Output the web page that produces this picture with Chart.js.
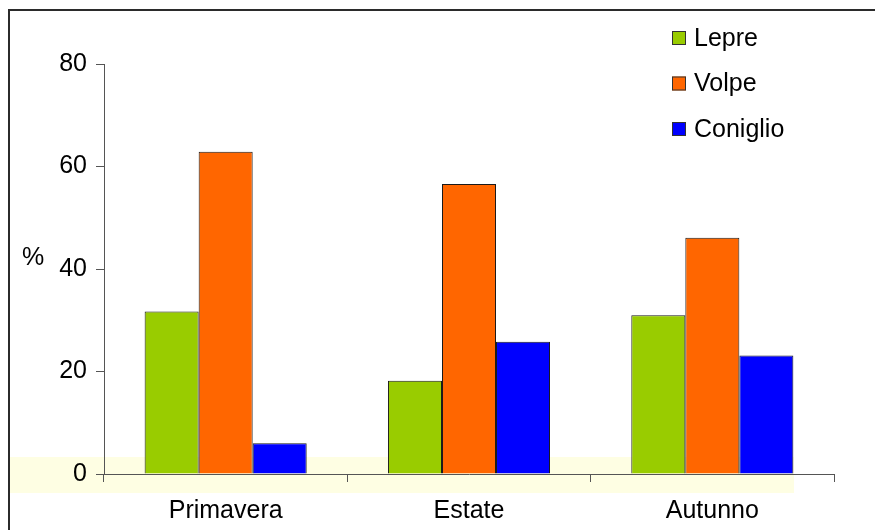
<!DOCTYPE html>
<html>
<head>
<meta charset="utf-8">
<script src="https://cdn.jsdelivr.net/npm/chart.js@4.4.1/dist/chart.umd.min.js"></script>
<style>
  body { margin: 0; background: #fff; }
  #wrap { width: 875px; height: 530px; }
</style>
</head>
<body>
<div id="wrap"><canvas id="myChart" width="875" height="530"></canvas></div>
<script>
// dati
const categories = ['Primavera', 'Estate', 'Autunno'];
const lepre = [31.7, 18.2, 31.0];
const volpe = [62.9, 56.6, 46.1];
const coniglio = [6.0, 25.8, 23.1];
const yTicks = [0, 20, 40, 60, 80];
const seriesNames = ['Lepre', 'Volpe', 'Coniglio'];
const seriesColors = ['#99CC00', '#FF6600', '#0000FF'];

const FONT = 'Liberation Sans, Arial, sans-serif';

// sfondo, banda gialla, cornice
const backPlugin = {
    id: 'back',
    beforeDraw(chart) {
        const c = chart.ctx;
        c.save();
        c.fillStyle = '#fff';
        c.fillRect(0, 0, chart.width, chart.height);
        c.fillStyle = '#FEFEE3';
        c.fillRect(10, 457, 784, 36);
        c.strokeStyle = '#2b2b2b';
        c.lineWidth = 2;
        c.strokeRect(9, 10, 900, 600);
        c.restore();
    }
};

// legenda e simbolo %
const legendPlugin = {
    id: 'myLegend',
    afterDraw(chart) {
        const c = chart.ctx;
        c.save();
        c.font = '25px ' + FONT;
        c.textBaseline = 'middle';
        chart.data.datasets.forEach(function (ds, i) {
            const y = 38 + i * 45.5;
            c.fillStyle = ds.backgroundColor;
            c.fillRect(672, y - 7, 14, 14);
            c.strokeStyle = '#333';
            c.lineWidth = 1;
            c.strokeRect(672.5, y - 6.5, 13, 13);
            c.fillStyle = '#000';
            c.textAlign = 'left';
            c.fillText(ds.label, 694, y + 1);
        });
        c.textAlign = 'center';
        c.fillText('%', 33, 258);
        c.restore();
    }
};

const datasets = [lepre, volpe, coniglio].map(function (vals, i) {
    return {
        label: seriesNames[i],
        data: vals,
        backgroundColor: seriesColors[i],
        borderColor: '#1a1a1a',
        borderWidth: 1,
        categoryPercentage: 0.666,
        barPercentage: 1.0
    };
});

new Chart(document.getElementById('myChart'), {
    type: 'bar',
    data: { labels: categories, datasets: datasets },
    plugins: [backPlugin, legendPlugin],
    options: {
        responsive: false,
        animation: false,
        layout: { padding: { left: 0, right: 41, top: 64, bottom: 0 } },
        plugins: { legend: { display: false }, tooltip: { enabled: false } },
        scales: {
            x: {
                offset: true,
                grid: { offset: true, drawOnChartArea: false, tickLength: 8, color: '#555' },
                border: { color: '#555', width: 1 },
                ticks: { color: '#000', font: { family: FONT, size: 25 }, padding: 14, maxRotation: 0 },
                afterFit: function (s) { s.height = 56; }
            },
            y: {
                min: 0,
                max: 80,
                afterBuildTicks: function (s) { s.ticks = yTicks.map(function (v) { return { value: v }; }); },
                grid: { drawOnChartArea: false, tickLength: 8, color: '#555' },
                border: { color: '#555', width: 1 },
                ticks: { color: '#000', font: { family: FONT, size: 25 }, padding: 9 },
                afterFit: function (s) { s.width = 104; }
            }
        }
    }
});
</script>
</body>
</html>
